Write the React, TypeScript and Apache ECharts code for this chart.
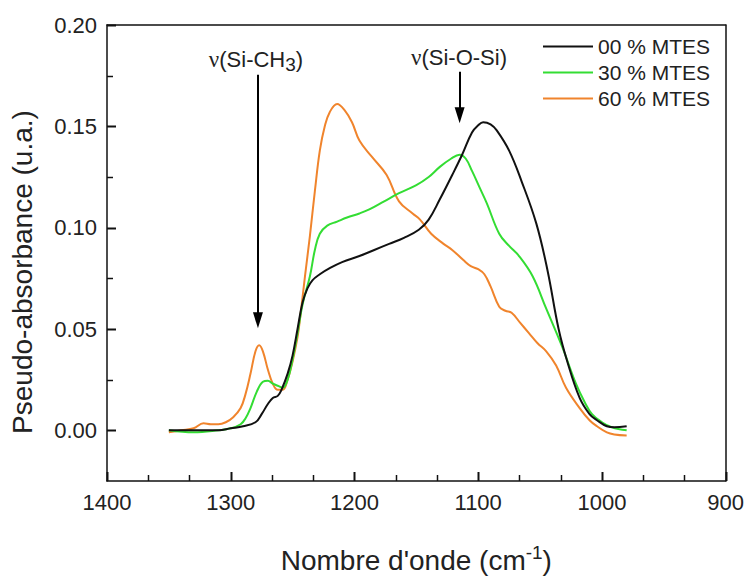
import React, { useEffect, useRef } from "react";
import * as echarts from "echarts";

// Wavenumbers (cm-1) and pseudo-absorbance values
const wn00 = [1350, 1330, 1310, 1300, 1290, 1280, 1275, 1270, 1266, 1262, 1259, 1254, 1250, 1246, 1242, 1238, 1234, 1228, 1220, 1210, 1196, 1184, 1172, 1160, 1148, 1140, 1131, 1121, 1113, 1105, 1100, 1096, 1090, 1085, 1075, 1065, 1053, 1044, 1035, 1028, 1018, 1010, 1004, 996, 990, 980];
const ab00 = [0.000, 0.000, 0.000, 0.001, 0.002, 0.004, 0.008, 0.013, 0.016, 0.017, 0.020, 0.028, 0.037, 0.050, 0.063, 0.070, 0.074, 0.077, 0.080, 0.083, 0.086, 0.089, 0.092, 0.095, 0.099, 0.104, 0.114, 0.126, 0.136, 0.147, 0.1505, 0.152, 0.151, 0.148, 0.138, 0.123, 0.102, 0.079, 0.050, 0.034, 0.016, 0.008, 0.005, 0.002, 0.0015, 0.002];

const wn30 = [1350, 1330, 1310, 1300, 1292, 1288, 1284, 1279, 1274, 1270, 1266, 1262, 1258, 1254, 1250, 1246, 1242, 1236, 1232, 1228, 1222, 1214, 1206, 1196, 1188, 1176, 1164, 1150, 1140, 1131, 1122, 1115, 1110, 1105, 1099, 1093, 1083, 1075, 1067, 1056, 1045, 1032, 1021, 1014, 1008, 1000, 992, 980];
const ab30 = [0.000, -0.001, 0.000, 0.001, 0.003, 0.006, 0.011, 0.019, 0.024, 0.0245, 0.023, 0.022, 0.021, 0.025, 0.035, 0.048, 0.062, 0.076, 0.089, 0.097, 0.101, 0.103, 0.105, 0.107, 0.109, 0.113, 0.117, 0.121, 0.125, 0.130, 0.134, 0.136, 0.134, 0.128, 0.120, 0.112, 0.097, 0.091, 0.086, 0.076, 0.060, 0.041, 0.023, 0.014, 0.008, 0.004, 0.0015, 0.000];

const wn60 = [1350, 1340, 1330, 1322, 1316, 1310, 1304, 1298, 1292, 1288, 1284, 1280, 1277, 1274, 1270, 1266, 1262, 1258, 1254, 1250, 1246, 1244, 1240, 1236, 1232, 1228, 1224, 1220, 1214, 1208, 1202, 1196, 1186, 1174, 1164, 1153, 1147, 1138, 1128, 1121, 1112, 1106, 1100, 1095, 1090, 1083, 1078, 1073, 1066, 1059, 1052, 1045, 1037, 1029, 1018, 1010, 1004, 996, 990, 980];
const ab60 = [-0.001, 0.000, 0.001, 0.0035, 0.003, 0.003, 0.004, 0.0065, 0.011, 0.018, 0.028, 0.039, 0.042, 0.039, 0.030, 0.023, 0.020, 0.020, 0.025, 0.034, 0.046, 0.055, 0.076, 0.096, 0.118, 0.138, 0.150, 0.157, 0.161, 0.158, 0.152, 0.143, 0.135, 0.126, 0.113, 0.107, 0.104, 0.097, 0.092, 0.089, 0.084, 0.081, 0.0795, 0.077, 0.071, 0.061, 0.059, 0.058, 0.053, 0.048, 0.043, 0.039, 0.032, 0.021, 0.011, 0.005, 0.002, -0.001, -0.002, -0.0025];

const seriesNames = ["00 % MTES", "30 % MTES", "60 % MTES"];
const seriesColors = ["#111111", "#33dd33", "#f0842c"];

const xMajorTicks = [1400, 1300, 1200, 1100, 1000, 900];
const yMajorTicks = [0, 0.05, 0.1, 0.15, 0.2];
const yMinorTicks = [0.025, 0.075, 0.125, 0.175];

// Annotation arrows (data coordinates): [wavenumber, yStart, yEnd]
const arrowSiCH3 = [1278, 0.1754, 0.0543];
const arrowSiOSi = [1115, 0.1769, 0.1555];

const FONT = "Liberation Sans, Arial, sans-serif";
const TXT = "#222";
const AXC = "#111";

function pairs(xs: number[], ys: number[]) {
  return xs.map((x, i) => [x, ys[i]]);
}

export default function App() {
  const ref = useRef<HTMLDivElement>(null);
  useEffect(() => {
    if (!ref.current) return;
    const chart = echarts.init(ref.current, null, { renderer: "svg" });
    const datasets = [pairs(wn00, ab00), pairs(wn30, ab30), pairs(wn60, ab60)];
    const series: any[] = datasets.map((d, i) => ({
      name: seriesNames[i],
      type: "line",
      data: d,
      smooth: 0.4,
      symbol: "none",
      showSymbol: false,
      lineStyle: { color: seriesColors[i], width: 2 },
      itemStyle: { color: seriesColors[i] },
      z: 3 - i,
    }));
    series[0].markLine = {
      silent: true,
      animation: false,
      symbol: ["none", "triangle"],
      symbolSize: [10, 16],
      label: { show: false },
      emphasis: { disabled: true },
      lineStyle: { color: "#000", width: 2, type: "solid" },
      itemStyle: { color: "#000" },
      data: [
        [{ coord: [arrowSiCH3[0], arrowSiCH3[1]] }, { coord: [arrowSiCH3[0], arrowSiCH3[2]] }],
        [{ coord: [arrowSiOSi[0], arrowSiOSi[1]] }, { coord: [arrowSiOSi[0], arrowSiOSi[2]] }],
      ],
    };

    const xBase = { type: "value", min: 900, max: 1400, interval: 100, inverse: true };
    const yBase = { type: "value", min: -0.025, max: 0.2, interval: 0.025 };

    const textGraphics: any[] = [
      {
        type: "text",
        x: 22,
        y: 272,
        rotation: Math.PI / 2,
        style: {
          text: "Pseudo-absorbance (u.a.)",
          fontFamily: FONT,
          fontSize: 28,
          fill: TXT,
          align: "center",
          verticalAlign: "middle",
        },
      },
      {
        type: "text",
        x: 256,
        y: 59,
        style: {
          text: "{n|ν}{a|(Si-CH}{s|3}{a|)}",
          align: "center",
          verticalAlign: "middle",
          rich: {
            n: { fontFamily: "Liberation Serif, serif", fontSize: 23, fill: TXT, lineHeight: 26 },
            a: { fontFamily: FONT, fontSize: 22, fill: TXT, lineHeight: 26 },
            s: { fontFamily: FONT, fontSize: 19, fill: TXT, lineHeight: 20, padding: [10, 0, 0, 0] },
          },
        },
      },
      {
        type: "text",
        x: 459,
        y: 57,
        style: {
          text: "{n|ν}{a|(Si-O-Si)}",
          align: "center",
          verticalAlign: "middle",
          rich: {
            n: { fontFamily: "Liberation Serif, serif", fontSize: 23, fill: TXT, lineHeight: 26 },
            a: { fontFamily: FONT, fontSize: 22, fill: TXT, lineHeight: 26 },
          },
        },
      },
    ];

    chart.setOption({
      animation: false,
      textStyle: { fontFamily: FONT, color: TXT },
      grid: { left: 107, right: 20, top: 25, bottom: 94, containLabel: false },
      legend: {
        data: seriesNames,
        orient: "vertical",
        left: 543,
        top: 36,
        padding: 0,
        icon: "rect",
        itemWidth: 50,
        itemHeight: 2,
        itemGap: 5,
        selectedMode: false,
        textStyle: { fontFamily: FONT, fontSize: 21, color: TXT, lineHeight: 21 },
      },
      xAxis: [
        {
          ...xBase,
          position: "bottom",
          name: "Nombre d'onde (cm{sup|-1}{a|)}",
          nameLocation: "middle",
          nameGap: 62,
          nameTextStyle: {
            fontFamily: FONT,
            fontSize: 28,
            color: TXT,
            lineHeight: 34,
            rich: {
              a: { fontFamily: FONT, fontSize: 28, color: TXT, lineHeight: 34 },
              sup: { fontFamily: FONT, fontSize: 19, color: TXT, lineHeight: 24, verticalAlign: "top" },
            },
          },
          axisLine: { show: true, onZero: false, lineStyle: { color: AXC, width: 1.5 } },
          axisTick: { show: false },
          axisLabel: {
            fontFamily: FONT,
            fontSize: 22,
            color: TXT,
            margin: 10,
            formatter: (v: number) => String(v),
          },
          splitLine: { show: false },
        },
        {
          ...xBase,
          position: "top",
          axisLine: { show: true, onZero: false, lineStyle: { color: AXC, width: 1.5 } },
          axisTick: { show: false },
          axisLabel: { show: false },
          splitLine: { show: false },
        },
      ],
      yAxis: [
        {
          ...yBase,
          position: "left",
          axisLine: { show: true, onZero: false, lineStyle: { color: AXC, width: 1.5 } },
          axisTick: { show: false },
          axisLabel: {
            fontFamily: FONT,
            fontSize: 22,
            color: TXT,
            margin: 10,
            customValues: yMajorTicks,
            formatter: (v: number) => v.toFixed(2),
          },
          splitLine: { show: false },
        },
        {
          ...yBase,
          position: "right",
          axisLine: { show: true, onZero: false, lineStyle: { color: AXC, width: 1.5 } },
          axisTick: { show: false },
          axisLabel: { show: false },
          splitLine: { show: false },
        },
      ],
      series,
    });

    // Inward ticks placed through the chart's own scales
    const px = (v: number) => Number(chart.convertToPixel({ xAxisIndex: 0 }, v));
    const py = (v: number) => Number(chart.convertToPixel({ yAxisIndex: 0 }, v));
    const xLeft = px(1400);
    const yBottom = py(-0.025);
    const xMinorTicks: number[] = [];
    for (let i = 0; i < xMajorTicks.length - 1; i++) {
      const a = xMajorTicks[i];
      const b = xMajorTicks[i + 1];
      xMinorTicks.push(a + (b - a) / 3, a + (2 * (b - a)) / 3);
    }
    const tickLines: any[] = [];
    const addX = (v: number, len: number, w: number) => {
      const x = Math.round(px(v)) + 0.5;
      tickLines.push({
        type: "line",
        z: 100,
        silent: true,
        shape: { x1: x, y1: yBottom, x2: x, y2: yBottom - len },
        style: { stroke: AXC, lineWidth: w },
      });
    };
    const addY = (v: number, len: number, w: number) => {
      const y = Math.round(py(v)) + 0.5;
      tickLines.push({
        type: "line",
        z: 100,
        silent: true,
        shape: { x1: xLeft, y1: y, x2: xLeft + len, y2: y },
        style: { stroke: AXC, lineWidth: w },
      });
    };
    xMajorTicks.forEach((v) => addX(v, 9, 2));
    xMinorTicks.forEach((v) => addX(v, 6, 1.5));
    yMajorTicks.forEach((v) => addY(v, 9, 2));
    yMinorTicks.forEach((v) => addY(v, 6, 1.5));

    chart.setOption({ graphic: [...textGraphics, ...tickLines] });

    return () => chart.dispose();
  }, []);
  return (
    <div
      ref={ref}
      style={{ position: "absolute", left: 0, top: 0, width: 747, height: 582, background: "#fff" }}
    />
  );
}
